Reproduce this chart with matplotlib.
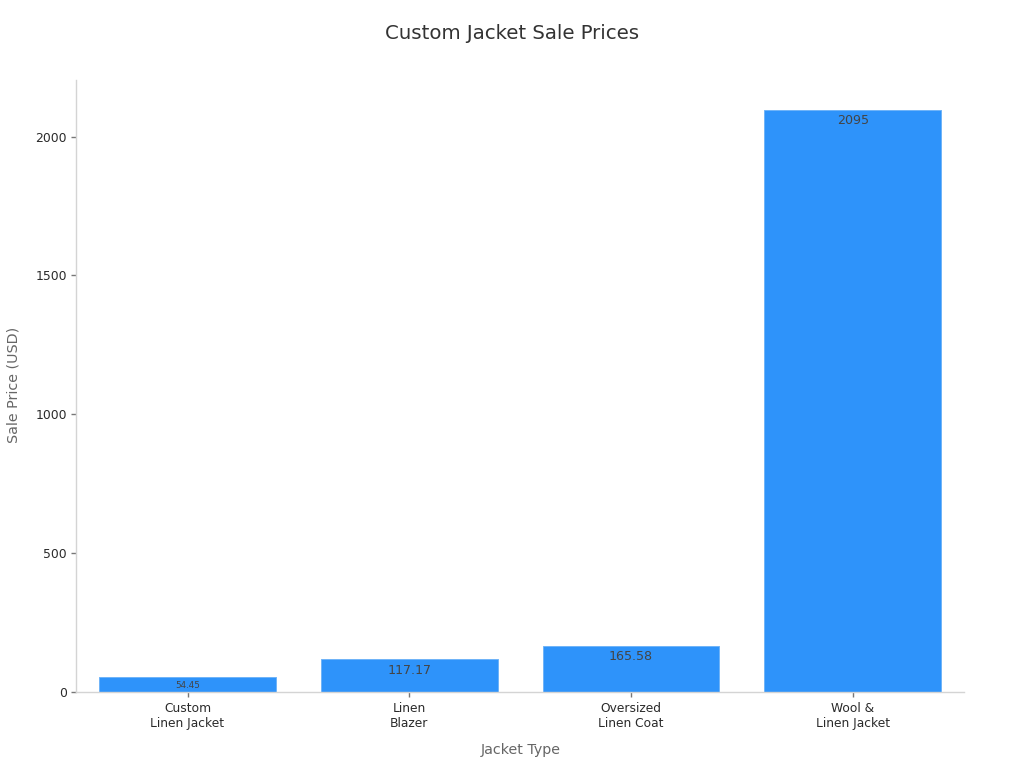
import matplotlib
matplotlib.use("Agg")
import matplotlib.pyplot as plt

categories = ["Custom\nLinen Jacket", "Linen\nBlazer", "Oversized\nLinen Coat", "Wool &\nLinen Jacket"]
prices = [54.45, 117.17, 165.58, 2095]
value_labels = ["54.45", "117.17", "165.58", "2095"]
label_sizes = [6.3, 9.1, 9.1, 9.1]
yticks = [0, 500, 1000, 1500, 2000]

fig = plt.figure(figsize=(10.24, 7.68), dpi=100)
ax = fig.add_axes([76/1024, 1-692/768, (964-76)/1024, (692-80)/768])
x = list(range(len(categories)))
ax.bar(x, prices, width=0.798, color="#2e93fa", edgecolor="#6fb4f8", linewidth=0.7)
ax.set_xlim(-0.503, 3.502)
ax.set_ylim(0, 2204)
for xi, v, s, fs in zip(x, prices, value_labels, label_sizes):
    ax.annotate(s, (xi, v), xytext=(0, -3), textcoords="offset points",
                ha="center", va="top", fontsize=fs, color="#444444")
for side in ("top", "right"):
    ax.spines[side].set_visible(False)
for side in ("left", "bottom"):
    ax.spines[side].set_color("#d4d4d4")
    ax.spines[side].set_linewidth(1.0)
ax.set_xticks(x)
ax.set_xticklabels(categories, fontsize=8.8, color="#2a2a2a", linespacing=1.2)
ax.set_yticks(yticks)
ax.tick_params(axis="y", labelsize=8.9, labelcolor="#2a2a2a", color="#777777", length=3.6, width=1, pad=3)
ax.tick_params(axis="x", color="#777777", length=3.6, width=1, pad=3.4)
ax.set_xlabel("Jacket Type", fontsize=10.3, color="#666666")
ax.xaxis.set_label_coords((520.5-76)/888, -(750.3-692)/612, transform=ax.transAxes)
ax.xaxis.label.set_va("center")
ax.set_ylabel("Sale Price (USD)", fontsize=10.3, color="#666666")
ax.yaxis.set_label_coords((13.2-76)/888, (692-385)/612, transform=ax.transAxes)
ax.yaxis.label.set_va("center")
fig.text(512/1024, 1-33.6/768, "Custom Jacket Sale Prices", ha="center", va="center", fontsize=14.2, color="#333333")
fig.savefig("out.png", dpi=100)
